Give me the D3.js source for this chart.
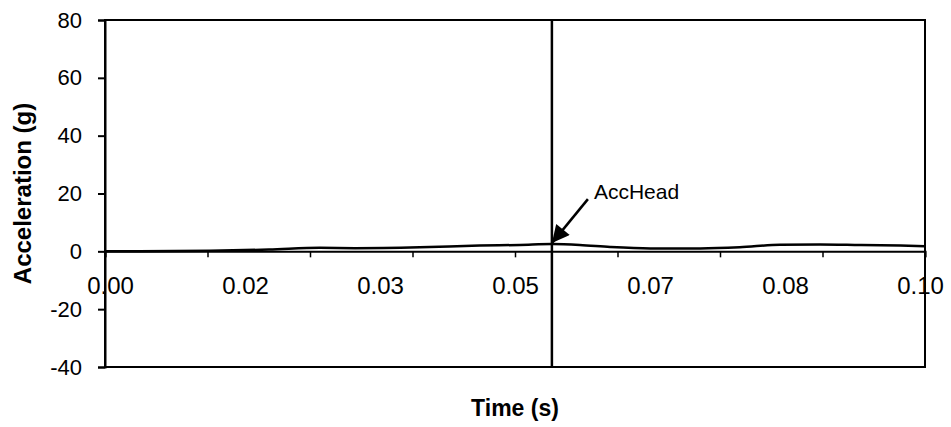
<!DOCTYPE html>
<html>
<head>
<meta charset="utf-8">
<script src="https://cdn.jsdelivr.net/npm/d3@7/dist/d3.min.js"></script>
<style>
  html, body { margin: 0; padding: 0; background: #fff; }
  svg { display: block; }
  text { font-family: "Liberation Sans", Arial, sans-serif; fill: #000; }
</style>
</head>
<body>
<svg id="chart" width="951" height="427"></svg>
<script>
// ---- data ----
const timeS    = [0, 0.0128, 0.020, 0.0262, 0.0305, 0.0384, 0.0457, 0.0506, 0.0545, 0.0579, 0.0616, 0.0665, 0.0726, 0.0774, 0.0823, 0.0872, 0.0921, 0.097, 0.1];
const accHead  = [0, 0.2,    0.6,   1.2,    1.1,    1.4,    2.0,    2.2,    2.5,    2.2,    1.5,    1.0,    1.0,    1.4,    2.3,    2.4,    2.2,    2.0,   1.8];
const yTicks   = [-40, -20, 0, 20, 40, 60, 80];
const xMinorTicks   = [0, 0.0125, 0.025, 0.0375, 0.05, 0.0625, 0.075, 0.0875, 0.1];
const xLabelValues  = [0, 1/60, 2/60, 3/60, 4/60, 5/60, 0.1];
const xTickLabels   = ["0.00", "0.02", "0.03", "0.05", "0.07", "0.08", "0.10"];
const markerTime    = 0.0545;
const seriesName    = "AccHead";

// ---- layout ----
const svg = d3.select("#chart");
const pL = 105, pR = 925, pT = 20, pB = 367;
const x = d3.scaleLinear().domain([0, 0.1]).range([pL, pR]);
const y = d3.scaleLinear().domain([-40, 80]).range([pB, pT]);
const xLab = d3.scaleLinear().domain([0, 0.1]).range([pL + 5, pR - 5]);

// plot frame
svg.append("rect")
  .attr("x", pL).attr("y", pT)
  .attr("width", pR - pL).attr("height", pB - pT)
  .attr("fill", "none").attr("stroke", "#000").attr("stroke-width", 2);

// y axis
const yAxis = svg.append("g")
  .attr("transform", `translate(${pL},0)`)
  .call(d3.axisLeft(y).tickValues(yTicks).tickSize(7).tickPadding(16).tickFormat(d => String(d)));
yAxis.select(".domain").attr("stroke-width", 2);
yAxis.selectAll(".tick line").attr("stroke-width", 2);
yAxis.selectAll(".tick text")
  .style("font-size", "22px")
  .style("font-family", "'Liberation Sans', Arial, sans-serif");

// x axis at y = 0 (tick marks)
const xAxis = svg.append("g")
  .attr("transform", `translate(0,${y(0)})`)
  .call(d3.axisBottom(x).tickValues(xMinorTicks).tickSize(6).tickFormat(""));
xAxis.select(".domain").attr("stroke-width", 2);
xAxis.selectAll(".tick line").attr("stroke-width", 1.5);

// x labels
const xLabels = svg.append("g")
  .attr("transform", `translate(0,${y(0)})`)
  .call(d3.axisBottom(xLab).tickValues(xLabelValues).tickSize(0).tickPadding(26)
    .tickFormat((d, i) => xTickLabels[i]));
xLabels.select(".domain").remove();
xLabels.selectAll(".tick text")
  .style("font-size", "24px")
  .style("font-family", "'Liberation Sans', Arial, sans-serif");

// marker vertical line
svg.append("line")
  .attr("x1", x(markerTime)).attr("x2", x(markerTime))
  .attr("y1", y(80)).attr("y2", y(-40))
  .attr("stroke", "#000").attr("stroke-width", 2.5);

// series line
const line = d3.line().x((d, i) => x(timeS[i])).y(d => y(d)).curve(d3.curveMonotoneX);
svg.append("path")
  .datum(accHead)
  .attr("d", line)
  .attr("fill", "none")
  .attr("stroke", "#000")
  .attr("stroke-width", 2.5);

// annotation arrow
const peakIdx = timeS.indexOf(markerTime);
const tipX = x(markerTime), tipY = y(accHead[peakIdx]) - 1;
const tailX = tipX + 36, tailY = tipY - 44;
svg.append("defs").append("marker")
  .attr("id", "arrow")
  .attr("viewBox", "0 0 10 10")
  .attr("refX", 10).attr("refY", 5)
  .attr("markerWidth", 8).attr("markerHeight", 7)
  .attr("markerUnits", "strokeWidth")
  .attr("orient", "auto")
  .append("path").attr("d", "M0,0 L10,5 L0,10 Z").attr("fill", "#000");
svg.append("line")
  .attr("x1", tailX).attr("y1", tailY)
  .attr("x2", tipX).attr("y2", tipY)
  .attr("stroke", "#000").attr("stroke-width", 2.5)
  .attr("marker-end", "url(#arrow)");
svg.append("text")
  .attr("x", tailX + 6).attr("y", tailY)
  .style("font-size", "21px")
  .text(seriesName);

// axis titles
svg.append("text")
  .attr("x", (pL + pR) / 2).attr("y", 416)
  .attr("text-anchor", "middle")
  .style("font-size", "23px").style("font-weight", "bold")
  .text("Time (s)");
svg.append("text")
  .attr("transform", `translate(31,${(pT + pB) / 2}) rotate(-90)`)
  .attr("text-anchor", "middle")
  .style("font-size", "24px").style("font-weight", "bold")
  .text("Acceleration (g)");
</script>
</body>
</html>
